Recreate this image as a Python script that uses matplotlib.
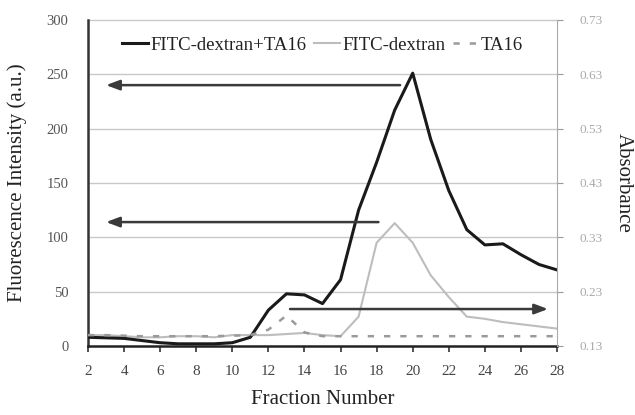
import matplotlib
matplotlib.use("Agg")
import matplotlib.pyplot as plt

plt.rcParams['font.family'] = ['Liberation Serif', 'DejaVu Serif']

# data
fraction = list(range(2, 29))
fitc_ta16 = [8, 7.5, 7, 5, 3, 2, 2, 2, 3, 8, 33, 48, 47, 39, 61, 125, 169, 217, 251, 190, 143, 107, 93, 94, 84, 75, 70]
fitc = [10, 10, 9, 8, 8, 9, 9, 8, 10, 10, 10, 11, 12, 10, 9, 27, 95, 113, 95, 65, 45, 27, 25, 22, 20, 18, 16]
ta16_abs = [0.150, 0.150, 0.149, 0.148, 0.148, 0.148, 0.148, 0.148, 0.149, 0.150,
            0.160, 0.186, 0.155, 0.148, 0.148, 0.148, 0.148, 0.148, 0.148, 0.148,
            0.148, 0.148, 0.148, 0.148, 0.148, 0.148, 0.148]

# arrows: (start x, end x, y on fluorescence scale)
arrows = [(19.3, 3.0, 240), (18.1, 3.0, 114), (13.2, 27.5, 34)]

fig = plt.figure(figsize=(6.35, 4.15), dpi=100)
ax = fig.add_axes([0.1386, 0.1663, 0.7386, 0.7857])
ax2 = ax.twinx()

ax.set_xlim(2, 28)
ax.set_ylim(0, 300)
ax2.set_ylim(0.13, 0.73)

for y in range(50, 301, 50):
    ax.axhline(y, color='#c8c8c8', lw=1.0, zorder=0, clip_on=False)

l1, = ax.plot(fraction, fitc_ta16, color='#1a1a1a', lw=2.2, zorder=3)
l2, = ax.plot(fraction, fitc, color='#bdbdbd', lw=1.5, zorder=2)
l3, = ax2.plot(fraction, ta16_abs, color='#9a9a9a', lw=1.8, ls=(0, (2.5, 4)), zorder=2)

for x0, x1, y in arrows:
    ax.annotate('', xy=(x1, y), xytext=(x0, y),
                arrowprops=dict(arrowstyle='-|>,head_length=0.8,head_width=0.3',
                                color='#3a3a3a', lw=1.8, shrinkA=0, shrinkB=0), zorder=4)

ax.set_xticks(range(2, 29, 2))
ax.set_yticks(range(0, 301, 50))
ax2.set_yticks([0.13, 0.23, 0.33, 0.43, 0.53, 0.63, 0.73])
ax2.set_yticklabels(['0.13', '0.23', '0.33', '0.43', '0.53', '0.63', '0.73'])

ax.tick_params(axis='x', direction='out', length=4, width=1.2, colors='#333333', labelsize=11, labelcolor='#444444', pad=10)
ax.tick_params(axis='y', length=0, labelsize=10.5, labelcolor='#555555', pad=14)
ax2.tick_params(axis='y', direction='out', length=4, color='#999999', labelsize=9.5, labelcolor='#aaaaaa', pad=12)

for s in ['top']:
    ax.spines[s].set_visible(False)
    ax2.spines[s].set_visible(False)
ax.spines['left'].set_linewidth(1.8)
ax.spines['left'].set_color('#333333')
ax.spines['bottom'].set_linewidth(1.8)
ax.spines['bottom'].set_color('#222222')
ax2.spines['left'].set_visible(False)
ax2.spines['bottom'].set_visible(False)
ax2.spines['right'].set_color('#aaaaaa')
ax.spines['right'].set_visible(False)

ax.set_xlabel('Fraction Number', fontsize=15, color='#222222', labelpad=8)
ax.set_ylabel('Fluorescence Intensity (a.u.)', fontsize=15, color='#222222', labelpad=14)
ax2.set_ylabel('Absorbance', fontsize=15, color='#222222', rotation=-90, labelpad=22)

ax.legend([l1, l2, l3], ['FITC-dextran+TA16', 'FITC-dextran', 'TA16'],
          loc='upper center', bbox_to_anchor=(0.5, 1.0), ncol=3, frameon=False,
          fontsize=13.5, handlelength=1.4, handletextpad=0.1, columnspacing=0.4,
          labelcolor='#222222')

fig.savefig('out.png', dpi=100)
